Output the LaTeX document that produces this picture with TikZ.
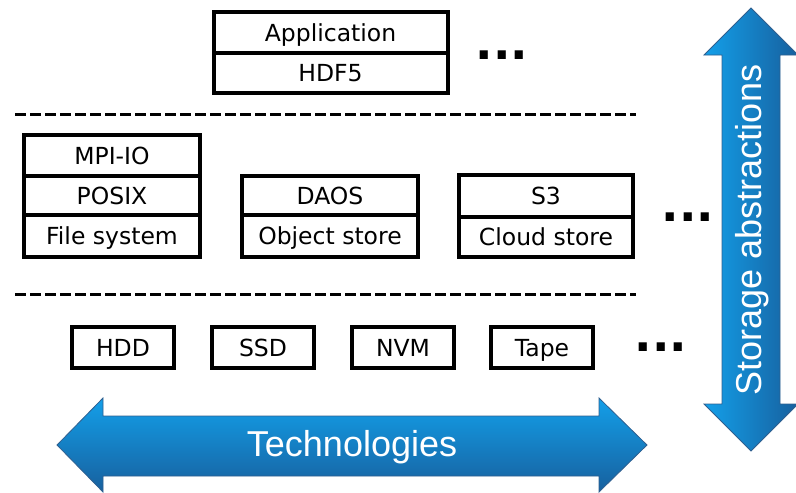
\documentclass[tikz,border=0pt]{standalone}
\usepackage{fontspec}
\setmainfont{DejaVu Sans}
\newfontfamily\arialfont{Liberation Sans}
\definecolor{lightb}{HTML}{139FE9}
\definecolor{darkb}{HTML}{17609E}
\definecolor{edgeb}{HTML}{2F5F8F}
\tikzset{
  cell/.style={draw=black, line width=4pt, rectangle, inner sep=0pt,
    text height=17pt, text depth=0pt, font=\fontsize{23.5}{27}\selectfont},
  dotsnode/.style={inner sep=0pt, font=\bfseries\fontsize{46}{46}\selectfont},
  sep/.style={line width=3pt, dash pattern=on 11pt off 4pt},
  bigarrow/.style={draw=edgeb, line width=0.8pt, line join=miter},
  arrowtext/.style={text=white, inner sep=0pt, font=\arialfont\fontsize{36}{40}\selectfont}
}
\begin{document}
\begin{tikzpicture}[x=1pt,y=-1pt]
\useasboundingbox (0,0) rectangle (796,493);

% top stack
\node[cell, minimum width=234pt, minimum height=41pt] (app) at (330.5,32.5) {Application};
\node[cell, minimum width=234pt, minimum height=40pt] (hdf) at (330.5,73) {HDF5};
\node[dotsnode] (dots1) at (502,55) {...};

% separators
\coordinate (s1a) at (15,114);
\coordinate (s1b) at (636,114);
\coordinate (s2a) at (15,294);
\coordinate (s2b) at (636,294);
\draw[sep] (s1a) -- (s1b);
\draw[sep] (s2a) -- (s2b);

% middle row
\node[cell, minimum width=176pt, minimum height=41pt] (mpi) at (112,155.5) {MPI-IO};
\node[cell, minimum width=176pt, minimum height=39pt] (posix) at (112,195.5) {POSIX};
\node[cell, minimum width=176pt, minimum height=42pt] (fs) at (112,236) {File system};

\node[cell, minimum width=176pt, minimum height=39pt] (daos) at (330,195.5) {DAOS};
\node[cell, minimum width=176pt, minimum height=42pt] (obj) at (330,236) {Object store};

\node[cell, minimum width=174pt, minimum height=42pt] (s3) at (546,196) {S3};
\node[cell, minimum width=174pt, minimum height=40pt] (cloud) at (546,237) {Cloud store};
\node[dotsnode] (dots2) at (688,217) {...};

% bottom row
\node[cell, minimum width=102pt, minimum height=41pt] (hdd) at (123,347.5) {HDD};
\node[cell, minimum width=102pt, minimum height=41pt] (ssd) at (263,347.5) {SSD};
\node[cell, minimum width=102pt, minimum height=41pt] (nvm) at (403,347.5) {NVM};
\node[cell, minimum width=102pt, minimum height=41pt] (tape) at (542,347.5) {Tape};
\node[dotsnode] (dots3) at (661,347) {...};

% horizontal arrow
\shade[bigarrow, top color=lightb, bottom color=darkb]
  (57,445) -- (103,398) -- (103,416) -- (599,416) -- (599,398) -- (647,445)
  -- (599,492) -- (599,476) -- (103,476) -- (103,492) -- cycle;
\node[arrowtext] (tech) at (352,447) {Technologies};

% vertical arrow
\shade[bigarrow, left color=lightb, right color=darkb]
  (751,8) -- (798,55) -- (780,55) -- (780,404) -- (798,404) -- (751,451)
  -- (704,404) -- (722,404) -- (722,55) -- (704,55) -- cycle;
\node[arrowtext, rotate=90] (stor) at (752,230) {Storage abstractions};
\end{tikzpicture}
\end{document}
